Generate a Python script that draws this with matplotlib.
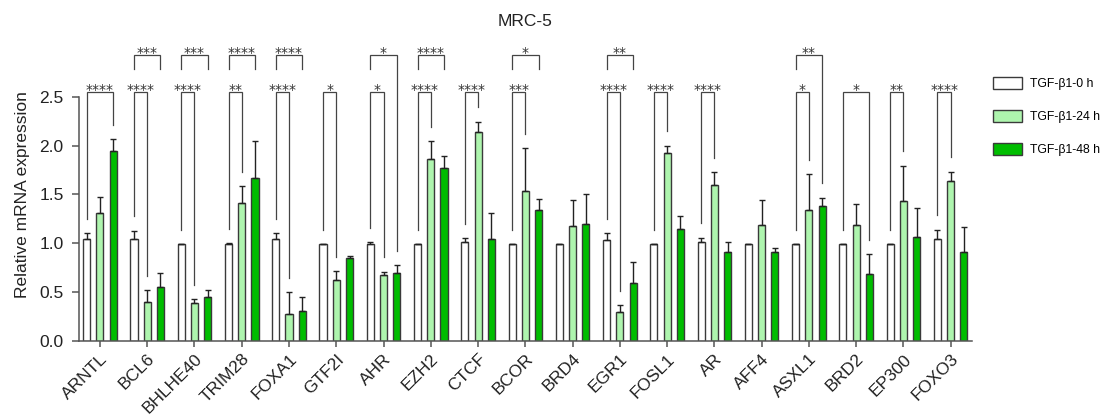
import numpy as np
import matplotlib
matplotlib.use("Agg")
import matplotlib.pyplot as plt
from matplotlib.transforms import ScaledTranslation

plt.rcParams['font.family'] = ['Liberation Sans', 'DejaVu Sans']

genes = ["ARNTL", "BCL6", "BHLHE40", "TRIM28", "FOXA1", "GTF2I", "AHR", "EZH2", "CTCF",
         "BCOR", "BRD4", "EGR1", "FOSL1", "AR", "AFF4", "ASXL1", "BRD2", "EP300", "FOXO3"]
series_labels = ["TGF-\u03b21-0 h", "TGF-\u03b21-24 h", "TGF-\u03b21-48 h"]

h0_mean = [1.04, 1.044, 0.99, 0.99, 1.047, 0.99, 0.993, 0.99, 1.01, 0.99, 0.99, 1.037, 0.99,
           1.017, 0.99, 0.99, 0.99, 0.99, 1.04]
h0_err = [0.06, 0.086, 0.005, 0.01, 0.053, 0.005, 0.017, 0.005, 0.04, 0.005, 0.005, 0.063,
          0.005, 0.041, 0.005, 0.005, 0.005, 0.005, 0.10]
h24_mean = [1.31, 0.40, 0.39, 1.415, 0.273, 0.624, 0.676, 1.866, 2.136, 1.53, 1.174, 0.293,
            1.924, 1.60, 1.19, 1.34, 1.184, 1.436, 1.634]
h24_err = [0.16, 0.125, 0.04, 0.171, 0.227, 0.092, 0.034, 0.181, 0.109, 0.44, 0.273, 0.072,
           0.076, 0.126, 0.25, 0.366, 0.216, 0.359, 0.099]
h48_mean = [1.94, 0.556, 0.447, 1.665, 0.307, 0.853, 0.693, 1.77, 1.044, 1.344, 1.198, 0.59,
            1.15, 0.914, 0.914, 1.38, 0.686, 1.06, 0.907]
h48_err = [0.13, 0.144, 0.073, 0.382, 0.143, 0.02, 0.087, 0.124, 0.269, 0.109, 0.31, 0.215,
           0.13, 0.103, 0.036, 0.087, 0.204, 0.30, 0.256]

# significance brackets: (gene index, bar a, bar b, level, label, long left leg, long right leg)
brackets = [
    (0, 0, 2, 0, "****", True, True),
    (1, 0, 1, 0, "****", True, True),
    (2, 0, 1, 0, "****", True, True),
    (3, 0, 1, 0, "**", True, True),
    (4, 0, 1, 0, "****", True, True),
    (5, 0, 1, 0, "*", True, True),
    (6, 0, 1, 0, "*", True, True),
    (7, 0, 1, 0, "****", True, True),
    (8, 0, 1, 0, "****", True, True),
    (9, 0, 1, 0, "***", True, True),
    (11, 0, 1, 0, "****", True, True),
    (12, 0, 1, 0, "****", True, True),
    (13, 0, 1, 0, "****", True, True),
    (15, 0, 1, 0, "*", True, True),
    (16, 0, 2, 0, "*", True, True),
    (17, 0, 1, 0, "**", True, True),
    (18, 0, 1, 0, "****", True, True),
    (1, 0, 2, 1, "***", False, False),
    (2, 0, 2, 1, "***", False, False),
    (3, 0, 2, 1, "****", False, False),
    (4, 0, 2, 1, "****", False, False),
    (6, 0, 2, 1, "*", False, True),
    (7, 0, 2, 1, "****", False, False),
    (9, 0, 2, 1, "*", False, False),
    (11, 0, 2, 1, "**", False, False),
    (15, 0, 2, 1, "**", False, True),
]

colors = ["#ffffff", "#aef5ae", "#00bd00"]
edge = "#3a3a3a"
offsets = [-0.28, 0.0, 0.28]
width = 0.15
levels = [2.545, 2.93]
leg_gap = 0.145

fig = plt.figure(figsize=(11.06, 4.17), dpi=100)
ax = fig.add_axes([0.0714, 0.1823, 0.8074, 0.703])

x = np.arange(len(genes))
means = [np.array(h0_mean), np.array(h24_mean), np.array(h48_mean)]
errs = [np.array(h0_err), np.array(h24_err), np.array(h48_err)]

handles = []
for k in range(3):
    b = ax.bar(x + offsets[k], means[k], width=width, color=colors[k], edgecolor=edge,
               linewidth=1.0, zorder=2, label=series_labels[k])
    handles.append(b)
    ax.errorbar(x + offsets[k], means[k], yerr=[np.zeros(len(genes)), errs[k]], fmt='none',
                ecolor="#222222", elinewidth=1.0, capsize=2.0, capthick=1.0, zorder=3)

for g, a, bb, lev, lab, la, lb in brackets:
    xa = g + offsets[a]
    xb = g + offsets[bb]
    yl = levels[lev]
    ya = (means[a][g] + errs[a][g] + leg_gap) if la else yl - leg_gap
    yb = (means[bb][g] + errs[bb][g] + leg_gap) if lb else yl - leg_gap
    ax.plot([xa, xa, xb, xb], [ya, yl, yl, yb], color="#444444", lw=0.9,
            clip_on=False, zorder=4, solid_joinstyle='miter')
    ax.annotate(lab, xy=((xa + xb) / 2, yl), xytext=(0, -1.5), textcoords='offset points',
                ha='center', va='baseline', fontsize=10, family='DejaVu Sans',
                color="#333333", annotation_clip=False)

ax.set_xlim(-0.444, 18.45)
ax.set_ylim(0, 3.0)
ax.set_yticks([0.0, 0.5, 1.0, 1.5, 2.0, 2.5])
ax.set_yticklabels(["0.0", "0.5", "1.0", "1.5", "2.0", "2.5"])
ax.set_xticks(x)
ax.set_xticklabels(genes, rotation=45, ha='right', va='top', rotation_mode='anchor')
shift = ScaledTranslation(4 / 72, 0, fig.dpi_scale_trans)
for lbl in ax.get_xticklabels():
    lbl.set_transform(lbl.get_transform() + shift)
for s in ['top', 'right']:
    ax.spines[s].set_visible(False)
for s in ['left', 'bottom']:
    ax.spines[s].set_color("#555555")
    ax.spines[s].set_linewidth(1.1)
ax.spines['left'].set_bounds(0, 2.5)
ax.tick_params(axis='both', colors="#555555", width=1.1, labelsize=12.5,
               labelcolor="#222222")
ax.tick_params(axis='y', length=5, pad=6)
ax.tick_params(axis='x', length=4.5, pad=3)
ax.set_ylabel("Relative mRNA expression", fontsize=12.5, color="#222222", labelpad=7)
ax.set_title("MRC-5", fontsize=12.5, color="#222222", pad=15.5)

ax.legend(handles=handles, loc='upper left', bbox_to_anchor=(993 / 1106, 1 - 77 / 417),
          bbox_transform=fig.transFigure, frameon=False, fontsize=8.8, handlelength=2.35,
          handleheight=1.1, labelspacing=1.65, handletextpad=0.7, borderpad=0,
          borderaxespad=0)

fig.savefig("out.png", dpi=100)
